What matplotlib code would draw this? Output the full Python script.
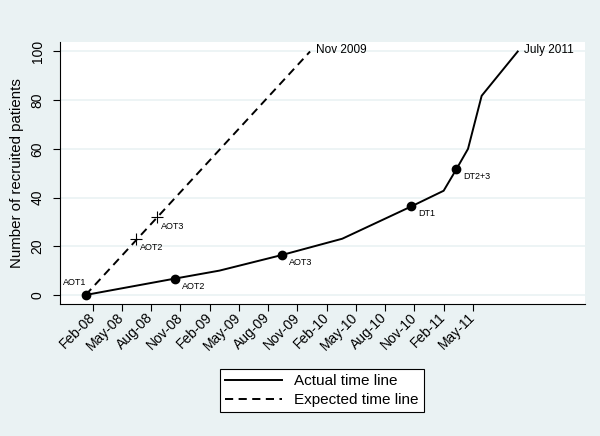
import matplotlib
matplotlib.use("Agg")
import matplotlib.pyplot as plt

plt.rcParams['font.family'] = ['Liberation Sans', 'DejaVu Sans']

# x values are months counted from Jan 2008 (= 0)
tick_months = [1, 4, 7, 10, 13, 16, 19, 22, 25, 28, 31, 34, 37, 40]
tick_labels = ["Feb-08", "May-08", "Aug-08", "Nov-08", "Feb-09", "May-09", "Aug-09",
               "Nov-09", "Feb-10", "May-10", "Aug-10", "Nov-10", "Feb-11", "May-11"]

actual_months = [0.28, 9.4, 14.0, 20.4, 26.6, 33.7, 37.0, 38.3, 39.5, 40.9, 44.6]
actual_values = [0, 6.7, 10, 16.4, 23.1, 36.4, 42.8, 51.6, 60, 81.8, 100]

actual_marker_months = [0.28, 9.4, 20.4, 33.7, 38.3]
actual_marker_values = [0, 6.7, 16.4, 36.4, 51.6]
actual_marker_labels = ["AOT1", "AOT2", "AOT3", "DT1", "DT2+3"]

expected_months = [0.28, 23.3]
expected_values = [0, 100]

expected_marker_months = [5.47, 7.56]
expected_marker_values = [23, 31.9]
expected_marker_labels = ["AOT2", "AOT3"]

end_labels = ["Nov 2009", "July 2011"]

bg = "#EAF2F3"
px = 0.72  # points per pixel at dpi 100

fig = plt.figure(figsize=(6.0, 4.36), dpi=100, facecolor=bg)
ax = fig.add_axes([0.1, 0.3028, 0.875, 0.6009])
ax.set_facecolor("white")

for v in [0, 20, 40, 60, 80, 100]:
    ax.axhline(v, color=bg, lw=1.2, zorder=0)

la, = ax.plot(actual_months, actual_values, color="black", lw=1.4, zorder=3,
              label="Actual time line")
le, = ax.plot(expected_months, expected_values, color="black", lw=1.4,
              linestyle=(0, (4.2, 2.8)), zorder=3, label="Expected time line")
ax.plot(actual_marker_months, actual_marker_values, "o", color="black", ms=6, zorder=4)
ax.plot(expected_marker_months, expected_marker_values, "+", color="black", ms=9,
        mew=0.8, zorder=4)

for i, (m, v, t) in enumerate(zip(actual_marker_months, actual_marker_values, actual_marker_labels)):
    if i == 0:
        ax.annotate(t, (m, v), xytext=(1 * px, 12 * px), textcoords="offset points",
                    ha="right", va="center", fontsize=6.5)
    else:
        ax.annotate(t, (m, v), xytext=(7 * px, -7.5 * px), textcoords="offset points",
                    ha="left", va="center", fontsize=6.5)

for m, v, t in zip(expected_marker_months, expected_marker_values, expected_marker_labels):
    ax.annotate(t, (m, v), xytext=(4 * px, -9 * px), textcoords="offset points",
                ha="left", va="center", fontsize=6.5)

ax.annotate(end_labels[0], (expected_months[-1], expected_values[-1]), xytext=(6 * px, 1 * px),
            textcoords="offset points", ha="left", va="center", fontsize=8.5)
ax.annotate(end_labels[1], (actual_months[-1], actual_values[-1]), xytext=(6 * px, 1 * px),
            textcoords="offset points", ha="left", va="center", fontsize=8.5)

ax.set_xlim(-2.35, 51.5)
ax.set_ylim(-3.7, 103.9)
ax.set_xticks(tick_months)
ax.set_xticklabels(tick_labels, rotation=45, ha="right", va="center",
                   rotation_mode="anchor", fontsize=10)
ax.set_yticks([0, 20, 40, 60, 80, 100])
ax.set_yticklabels(["0", "20", "40", "60", "80", "100"], rotation=90, va="center", fontsize=10)
ax.tick_params(axis="both", direction="out", length=5, width=0.8, color="black")
ax.tick_params(axis="x", pad=3)
ax.tick_params(axis="y", pad=6)
ax.set_ylabel("Number of recruited patients", fontsize=10.8, labelpad=5)

for s in ["top", "right"]:
    ax.spines[s].set_visible(False)
for s in ["left", "bottom"]:
    ax.spines[s].set_color("black")
    ax.spines[s].set_linewidth(0.8)

leg = fig.legend(handles=[la, le], loc="center", bbox_to_anchor=(0.536, 0.104),
                 fontsize=11, frameon=True, fancybox=False, edgecolor="black",
                 framealpha=1, handlelength=3.7, borderpad=0.35, labelspacing=0.3,
                 handletextpad=0.8)
leg.get_frame().set_linewidth(0.8)

fig.savefig("out.png", dpi=100, facecolor=bg)
